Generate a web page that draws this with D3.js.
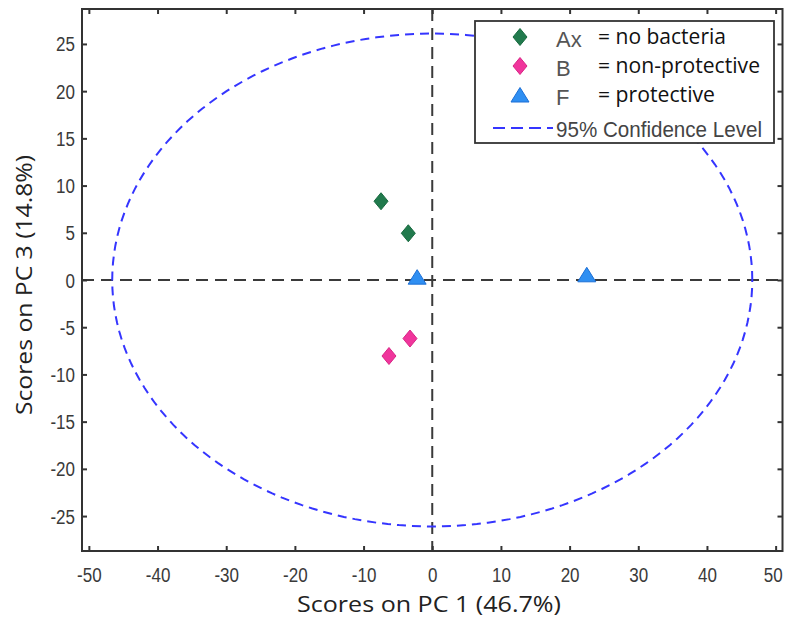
<!DOCTYPE html>
<html><head><meta charset="utf-8">
<script src="https://cdn.jsdelivr.net/npm/d3@7"></script>
<style>body{margin:0;background:#fff}</style>
</head><body><svg id="c" width="786" height="617"></svg>
<script>
// ---- data ----
const groups = ["Ax", "B", "F"];
const groupLabels = ["= no bacteria", "= non-protective", "= protective"];
const groupColors = ["#217a4d", "#f0359c", "#2f8ff2"];
const groupStrokes = ["#176a3f", "#d82585", "#1c6fd6"];
const groupShapes = ["diamond", "diamond", "triangle"];
const pc1Ax = [-7.46, -3.49];
const pc3Ax = [8.34, 4.95];
const pc1B = [-3.24, -6.3];
const pc3B = [-6.2, -8.05];
const pc1F = [-2.2, 22.5];
const pc3F = [0.3, 0.55];
const xTicks = [-50, -40, -30, -20, -10, 0, 10, 20, 30, 40, 50];
const yTicks = [-25, -20, -15, -10, -5, 0, 5, 10, 15, 20, 25];
const xDomain = [-51, 51];
const yDomain = [-28.7, 28.7];
const ellipseCenter = [0, 0];
const ellipseRadii = [46.6, 26.1];
const xTitle = "Scores on PC 1 (46.7%)";
const yTitle = "Scores on PC 3 (14.8%)";
const ciLabel = "95% Confidence Level";

// ---- layout ----
const svg = d3.select("#c");
const L = 82, R = 782.5, T = 9, B = 551;
const x = d3.scaleLinear().domain(xDomain).range([L, R]);
const y = d3.scaleLinear().domain(yDomain).range([B, T]);
const axisColor = "#333";
const tickFont = "'Liberation Sans', Arial, sans-serif";
const titleFont = "'Open Sans', 'Noto Sans', sans-serif";

function narrow(sel, k) {
  sel.each(function () {
    const w = this.getComputedTextLength();
    d3.select(this).attr("textLength", w * k).attr("lengthAdjust", "spacingAndGlyphs");
  });
}

// background
svg.append("rect").attr("x", 0).attr("y", 0).attr("width", 786).attr("height", 617).attr("fill", "#fff");

// crosshair dashed lines
svg.append("line").attr("x1", x(xDomain[0])).attr("x2", x(xDomain[1])).attr("y1", y(0)).attr("y2", y(0))
  .attr("stroke", "#3a3a3a").attr("stroke-width", 2).attr("stroke-dasharray", "12,7");
svg.append("line").attr("x1", x(0)).attr("x2", x(0)).attr("y1", y(yDomain[1])).attr("y2", y(yDomain[0]))
  .attr("stroke", "#3a3a3a").attr("stroke-width", 2).attr("stroke-dasharray", "12,7");

// confidence ellipse
const angles = d3.range(0, 361, 2).map(d => d * Math.PI / 180);
const ellipsePts = angles.map(t => [ellipseCenter[0] + ellipseRadii[0] * Math.cos(t), ellipseCenter[1] + ellipseRadii[1] * Math.sin(t)]);
svg.append("path").attr("d", d3.line().x(d => x(d[0])).y(d => y(d[1]))(ellipsePts))
  .attr("fill", "none").attr("stroke", "#3535ff").attr("stroke-width", 2).attr("stroke-dasharray", "9,6");

// markers
function markerPath(shape) {
  if (shape === "diamond") return "M0,-8.5L7,0L0,8.5L-7,0Z";
  return "M0,-7.5L9,7L-9,7Z";
}
const series = [
  {xs: pc1Ax, ys: pc3Ax, g: 0},
  {xs: pc1B, ys: pc3B, g: 1},
  {xs: pc1F, ys: pc3F, g: 2}
];
series.forEach(s => {
  const pts = s.xs.map((v, i) => [v, s.ys[i]]);
  svg.append("g").selectAll("path").data(pts).join("path")
    .attr("d", markerPath(groupShapes[s.g]))
    .attr("transform", d => `translate(${x(d[0])},${y(d[1])})`)
    .attr("fill", groupColors[s.g]).attr("stroke", groupStrokes[s.g]).attr("stroke-width", 1);
});

// axes (ticks inward on all sides)
const fmt = d => String(d);
const gB = svg.append("g").attr("transform", `translate(0,${B})`)
  .call(d3.axisBottom(x).tickValues(xTicks).tickFormat(fmt).tickSizeInner(-5).tickSizeOuter(0).tickPadding(16));
const gT = svg.append("g").attr("transform", `translate(0,${T})`)
  .call(d3.axisTop(x).tickValues(xTicks).tickFormat("").tickSizeInner(-5).tickSizeOuter(0));
const gL = svg.append("g").attr("transform", `translate(${L},0)`)
  .call(d3.axisLeft(y).tickValues(yTicks).tickFormat(fmt).tickSizeInner(-5).tickSizeOuter(0).tickPadding(7));
const gR = svg.append("g").attr("transform", `translate(${R},0)`)
  .call(d3.axisRight(y).tickValues(yTicks).tickFormat("").tickSizeInner(-5).tickSizeOuter(0));
[gB, gT, gL, gR].forEach(g => {
  g.select(".domain").remove();
  g.selectAll(".tick line").attr("stroke", axisColor).attr("stroke-width", 2);
  g.selectAll(".tick text").attr("fill", "#3a3a3a").attr("font-family", tickFont).attr("font-size", 20);
});
gB.selectAll(".tick text").attr("y", 24).attr("dy", "0.35em");
gL.selectAll(".tick text").attr("dy", "0.35em");
narrow(gB.selectAll(".tick text"), 0.85);
narrow(gL.selectAll(".tick text"), 0.85);
// keep the last x label inside the picture
gB.selectAll(".tick text").filter(d => d === xTicks[xTicks.length - 1]).attr("dx", -3);

// box
svg.append("rect").attr("x", L).attr("y", T).attr("width", R - L).attr("height", B - T)
  .attr("fill", "none").attr("stroke", axisColor).attr("stroke-width", 2);

// axis titles
svg.append("text").attr("x", 429).attr("y", 605).attr("dy", "0.35em").attr("text-anchor", "middle")
  .attr("font-family", titleFont).attr("font-size", 21).attr("fill", "#222")
  .attr("textLength", 264).attr("lengthAdjust", "spacingAndGlyphs").text(xTitle);
svg.append("text").attr("transform", "translate(25,285) rotate(-90)").attr("dy", "0.35em").attr("text-anchor", "middle")
  .attr("font-family", titleFont).attr("font-size", 21).attr("fill", "#222")
  .attr("textLength", 260).attr("lengthAdjust", "spacingAndGlyphs").text(yTitle);

// legend
const lg = svg.append("g");
lg.append("rect").attr("x", 475).attr("y", 21).attr("width", 299).attr("height", 122)
  .attr("fill", "#fff").attr("stroke", "#333").attr("stroke-width", 1.8);
const rowY = [37, 66, 95];
const labelW = [128, 162, 117];
groups.forEach((g, i) => {
  lg.append("path").attr("d", markerPath(groupShapes[i]))
    .attr("transform", `translate(520,${rowY[i]})`)
    .attr("fill", groupColors[i]).attr("stroke", groupStrokes[i]).attr("stroke-width", 1);
  lg.append("text").attr("x", 556).attr("y", rowY[i] + 2).attr("dy", "0.35em")
    .attr("font-family", tickFont).attr("font-size", 22).attr("fill", "#555").text(g);
  lg.append("text").attr("x", 598).attr("y", rowY[i]).attr("dy", "0.35em")
    .attr("font-family", titleFont).attr("font-size", 21).attr("fill", "#111")
    .attr("textLength", labelW[i]).attr("lengthAdjust", "spacingAndGlyphs").text(groupLabels[i]);
});
lg.append("line").attr("x1", 493).attr("x2", 553).attr("y1", 128).attr("y2", 128)
  .attr("stroke", "#3535ff").attr("stroke-width", 2).attr("stroke-dasharray", "12,6");
lg.append("text").attr("x", 556).attr("y", 129).attr("dy", "0.35em")
  .attr("font-family", tickFont).attr("font-size", 22).attr("fill", "#444")
  .attr("textLength", 206).attr("lengthAdjust", "spacingAndGlyphs").text(ciLabel);
</script>
</body></html>
